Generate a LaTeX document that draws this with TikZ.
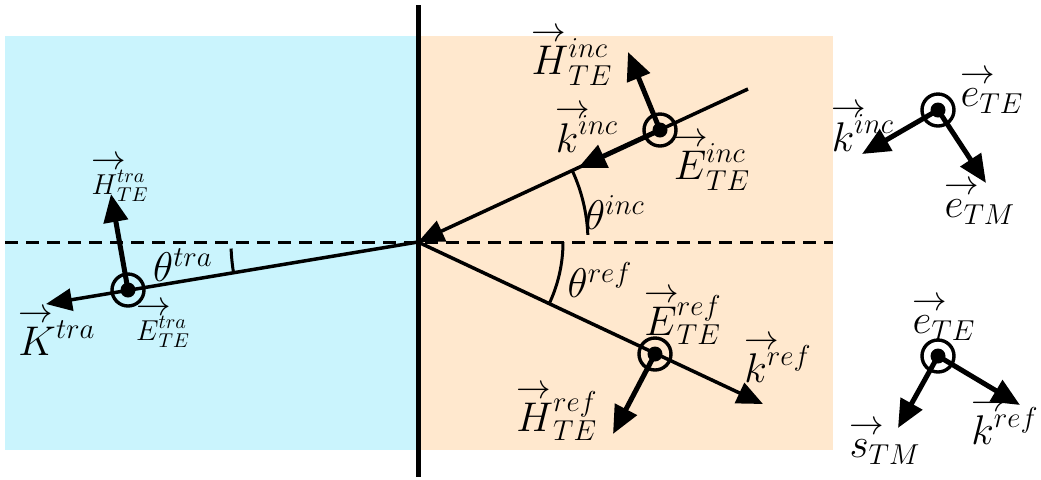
\documentclass[tikz,border=0pt]{standalone}
\usetikzlibrary{arrows.meta}
\definecolor{cyanbg}{RGB}{202,244,253}
\definecolor{orangebg}{RGB}{255,232,206}
\newcommand{\vecsym}[1]{{\setbox0\hbox{$#1$}\smash{\makebox[0pt][l]{\raisebox{\dimexpr\ht0+2.5pt\relax}{\fontsize{17.28}{20}\selectfont$\rightarrow$}}}#1}}
\begin{document}
\begin{tikzpicture}[x=0.5pt,y=-0.5pt,
  rayarrow/.style={line width=1.75pt,-{Triangle[length=13pt,width=11pt]}},
  vecarrow/.style={line width=2.5pt,-{Triangle[length=14pt,width=12pt]}},
  anglearc/.style={line width=1.5pt},
  ring/.style={circle,draw,line width=1.7pt,minimum size=16pt,inner sep=0pt},
  dot/.style={circle,fill,minimum size=7.5pt,inner sep=0pt},
  lab/.style={font=\fontsize{20.74}{25}\selectfont,inner sep=0pt},
  smalllab/.style={font=\fontsize{14.4}{17}\selectfont,inner sep=0pt}]
\useasboundingbox (0,0) rectangle (1041,479);
% backgrounds
\fill[cyanbg] (5,36) rectangle (418,450);
\fill[orangebg] (418,36) rectangle (833,450);
% dashed normal
\draw[line width=1.5pt,dash pattern=on 6.5pt off 4pt] (5,242) -- (833,242);
% interface
\draw[line width=2.5pt] (418,5) -- (418,477);
\coordinate (O) at (418,242);
% incident
\coordinate (Iinc) at (748,89);
\coordinate (kinctip) at (578,168);
\coordinate (Hinctip) at (628,52);
\node[ring] (cinc) at (660,130) {};
\node[dot] at (cinc.center) {};
\draw[rayarrow] (Iinc) -- (O);
\draw[vecarrow] (cinc.center) -- (kinctip);
\draw[vecarrow] (cinc.center) -- (Hinctip);
\draw[anglearc] (O) ++(-24.9:170) arc[start angle=-24.9,end angle=-2.4,radius=170];
% reflected
\coordinate (kreftip) at (763,404);
\coordinate (Hreftip) at (613,434);
\node[ring] (cref) at (655,354) {};
\node[dot] at (cref.center) {};
\draw[rayarrow] (O) -- (kreftip);
\draw[vecarrow] (cref.center) -- (Hreftip);
\draw[anglearc] (O) ++(0:145) arc[start angle=0,end angle=25.5,radius=145];
% transmitted
\coordinate (ktratip) at (46,304);
\coordinate (Htratip) at (111,194);
\node[ring] (ctra) at (128,290) {};
\node[dot] at (ctra.center) {};
\draw[rayarrow] (O) -- (ktratip);
\draw[vecarrow] (ctra.center) -- (Htratip);
\draw[anglearc] (O) ++(178:187) arc[start angle=178,end angle=170.5,radius=187];
% labels
\node[lab] (lHinc) at (572,62) {$\vecsym{H}^{inc}_{TE}$};
\node[lab] (lkinc) at (587,134) {$\vecsym{k}^{inc}$};
\node[lab] (lEinc) at (712,167) {$\vecsym{E}^{inc}_{TE}$};
\node[lab] (lthinc) at (615,213) {$\theta^{inc}$};
\node[lab] (lthref) at (600,280) {$\theta^{ref}$};
\node[lab] (lEref) at (683,320) {$\vecsym{E}^{ref}_{TE}$};
\node[lab] (lkref) at (778,364) {$\vecsym{k}^{ref}$};
\node[lab] (lHref) at (557,416) {$\vecsym{H}^{ref}_{TE}$};
\node[smalllab] (lHtra) at (120,186) {$\vecsym{H}^{tra}_{TE}$};
\node[lab] (lthtra) at (183,265) {$\theta^{tra}$};
\node[lab] (lKtra) at (57,338) {$\vecsym{K}^{tra}$};
\node[smalllab] (lEtra) at (163,332) {$\vecsym{E}^{tra}_{TE}$};
% right-side triads
\node[ring] (ct) at (938,110) {};
\node[dot] at (ct.center) {};
\coordinate (tk) at (862,154);
\coordinate (tm) at (986,183);
\draw[vecarrow] (ct.center) -- (tk);
\draw[vecarrow] (ct.center) -- (tm);
\node[lab] (ltTE) at (992,101) {$\vecsym{e}_{TE}$};
\node[lab] (ltk) at (863,133) {$\vecsym{k}^{inc}$};
\node[lab] (ltTM) at (980,212) {$\vecsym{e}_{TM}$};
\node[ring] (cb) at (938,356) {};
\node[dot] at (cb.center) {};
\coordinate (bs) at (898,428);
\coordinate (bk) at (1020,405);
\draw[vecarrow] (cb.center) -- (bs);
\draw[vecarrow] (cb.center) -- (bk);
\node[lab] (lbTE) at (944,328) {$\vecsym{e}_{TE}$};
\node[lab] (lbs) at (885,452) {$\vecsym{s}_{TM}$};
\node[lab] (lbk) at (1005,426) {$\vecsym{k}^{ref}$};
\end{tikzpicture}
\end{document}
